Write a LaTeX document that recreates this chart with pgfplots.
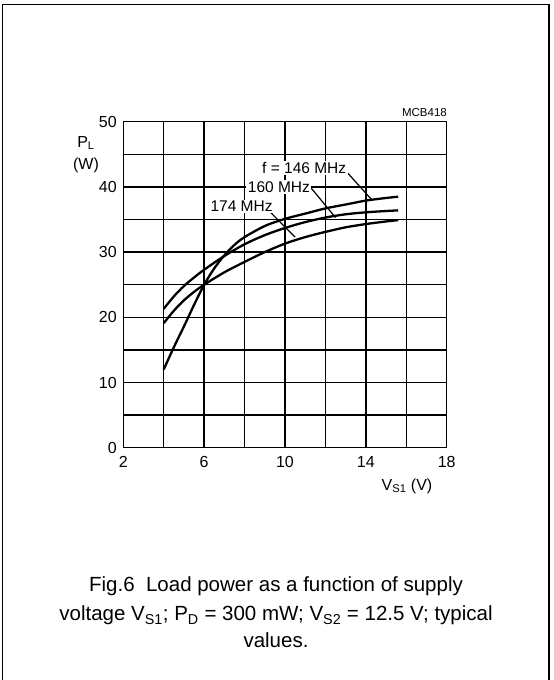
\documentclass[border=0pt]{standalone}
\usepackage{fontspec}
\setmainfont{Liberation Sans}
\usepackage{pgfplots}
\pgfplotsset{compat=1.18}
\begin{document}
\begin{tikzpicture}[x=1pt,y=1pt]
\useasboundingbox (0,0) rectangle (554,680);
\draw[line width=1.4pt] (2.7,0) -- (2.7,675.3) -- (549,675.3) -- (549,0);
\begin{axis}[
 at={(123.3pt,232.3pt)}, anchor=south west,
 scale only axis, width=323.4pt, height=326pt,
 xmin=2,xmax=18,ymin=0,ymax=50,
 xtick={2,6,10,14,18}, ytick={0,10,20,30,40,50},
 minor xtick={4,8,12,16}, minor ytick={5,15,25,35,45},
 grid=both,
 major grid style={black,line width=1.4pt},
 minor grid style={black,line width=1.4pt},
 axis line style={line width=1.4pt},
 major tick length=0pt, minor tick length=0pt,
 tick label style={font=\fontsize{16}{18}\selectfont},
 xticklabel style={yshift=-5pt},
 yticklabel style={xshift=-3pt},
 /pgf/number format/assume math mode=true,
 clip=false,
]
\addplot[black, line width=2.3pt, smooth] coordinates {
(4,12) (4.5,15.4) (5,18.6) (5.5,21.9) (6,25) (6.5,27.5) (7,29.5) (7.5,31.1) (8,32.3) (9,34) (10,35.1) (11,35.9) (12,36.7) (13,37.3) (14,37.9) (15,38.3) (15.6,38.5)};
\addplot[black, line width=2.3pt, smooth] coordinates {
(4,21.3) (4.5,23.2) (5,24.8) (5.5,26.1) (6,27.3) (7,29.4) (8,31.2) (9,32.6) (10,33.7) (11,34.6) (12,35.3) (13,35.8) (14,36.1) (15,36.3) (15.6,36.4)};
\addplot[black, line width=2.3pt, smooth] coordinates {
(4,19.1) (4.5,21.0) (5,22.6) (5.5,23.9) (6,25) (7,26.9) (8,28.5) (9,30) (10,31.3) (11,32.3) (12,33.1) (13,33.8) (14,34.3) (15,34.7) (15.6,34.9)};
\draw[line width=1.2pt] (axis cs:13.05,42.3) -- (axis cs:14.3,38.0);
\draw[line width=1.2pt] (axis cs:11.3,39.8) -- (axis cs:12.5,35.3);
\draw[line width=1.2pt] (axis cs:9.25,36.2) -- (axis cs:10.5,32.3);
\node[fill=white, inner sep=1.5pt, font=\fontsize{15.5}{18}\selectfont] at (axis cs:10.95,42.9) {f = 146 MHz};
\node[fill=white, inner sep=1.5pt, font=\fontsize{15.5}{18}\selectfont] at (axis cs:9.7,40.0) {160 MHz};
\node[fill=white, inner sep=1.5pt, font=\fontsize{15.5}{18}\selectfont] at (axis cs:7.85,37.0) {174 MHz};
\end{axis}
\node[font=\fontsize{16}{18}\selectfont] at (86,537) {P\textsubscript{L}};
\node[font=\fontsize{16}{18}\selectfont] at (86,515) {(W)};
\node[font=\fontsize{16}{18}\selectfont] at (407,194) {V\textsubscript{S1} (V)};
\node[font=\fontsize{11.5}{13}\selectfont, anchor=east, inner sep=0pt] at (447,567) {MCB418};
\begin{scope}[font=\fontsize{20.5}{25}\selectfont]
\node[anchor=base] at (276,88) {Fig.6\ \ Load power as a function of supply};
\node[anchor=base] at (276,59) {voltage V\textsubscript{S1}; P\textsubscript{D} = 300 mW; V\textsubscript{S2} = 12.5 V; typical};
\node[anchor=base] at (276,32) {values.};
\end{scope}
\end{tikzpicture}
\end{document}
